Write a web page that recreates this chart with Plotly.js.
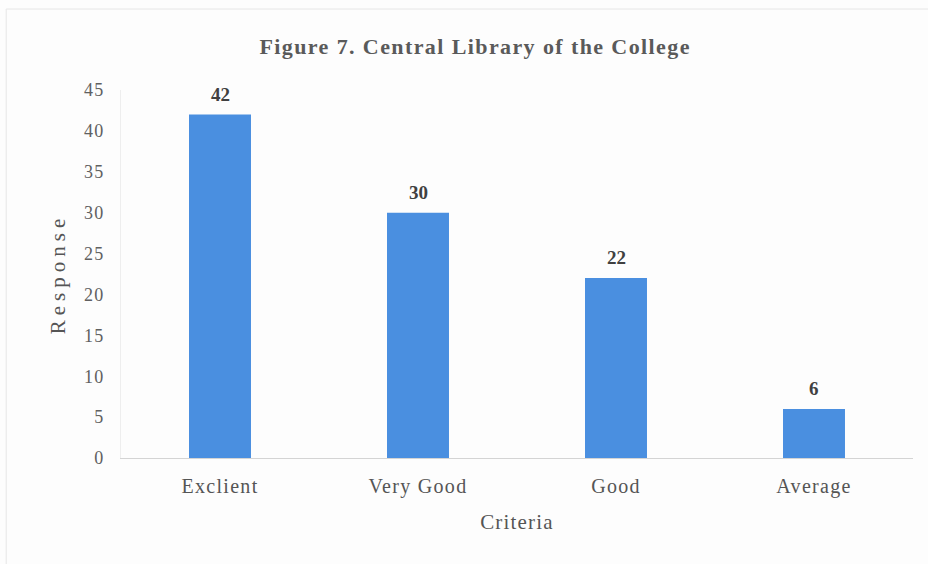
<!DOCTYPE html>
<html><head><meta charset="utf-8">
<script src="https://cdn.plot.ly/plotly-3.0.1.min.js"></script>
<style>
body{margin:0;background:#fdfdfd}
.gtitle{letter-spacing:1.4px}
.xtick text{letter-spacing:1.3px}
.ytick text{letter-spacing:1.2px}
.ytitle{letter-spacing:5px}
.xtitle{letter-spacing:1.2px}
</style>
</head><body>
<div id="chart" style="width:928px;height:564px"></div>
<script>
const categories = ["Exclient", "Very Good", "Good", "Average"];
const responses = [42, 30, 22, 6];
const tickVals = [0, 5, 10, 15, 20, 25, 30, 35, 40, 45];

const serif = '"Liberation Serif", "Times New Roman", Times, serif';
const trace = {
  type: 'bar', x: categories, y: responses,
  marker: {color: '#4a8fe0'},
  hoverinfo: 'skip'
};
const labels = categories.map((c, i) => ({
  x: c, y: responses[i], xref: 'x', yref: 'y', text: '<b>' + responses[i] + '</b>',
  showarrow: false, yanchor: 'bottom', yshift: 8,
  font: {family: serif, size: 19, color: '#404040'}
}));
const layout = {
  width: 928, height: 564,
  font: {family: serif, color: '#555555'},
  paper_bgcolor: '#fdfdfd', plot_bgcolor: '#fdfdfd',
  margin: {l: 121, r: 15, t: 90, b: 106},
  bargap: 0.687,
  showlegend: false,
  title: {text: '<b>Figure 7. Central Library of the College</b>', x: 0.512, xanchor: 'center', y: 0.918, yanchor: 'middle',
          font: {family: serif, size: 22, color: '#5a5a5a'}},
  xaxis: {
    showline: true, linecolor: '#d4d4d4', linewidth: 1, ticks: '', showgrid: false,
    tickfont: {family: serif, size: 20, color: '#555555'}, ticklabelstandoff: 10,
    title: {text: 'Criteria', font: {family: serif, size: 21, color: '#555555'}, standoff: 17}
  },
  yaxis: {
    range: [0, 45], tickvals: tickVals, showgrid: false, zeroline: false,
    showline: true, linecolor: '#eeeeee', ticks: '',
    tickfont: {family: serif, size: 18, color: '#606060'}, ticklabelstandoff: 12,
    title: {text: 'Response', font: {family: serif, size: 21, color: '#555555'}, standoff: 12}
  },
  annotations: labels,
  shapes: [{type: 'rect', xref: 'paper', yref: 'paper', x0: -0.145, x1: 1.03, y0: -0.3, y1: 1.22,
            line: {color: '#e6e6e6', width: 1}}]
};
Plotly.newPlot('chart', [trace], layout, {displayModeBar: false, staticPlot: true});
</script>
</body></html>
